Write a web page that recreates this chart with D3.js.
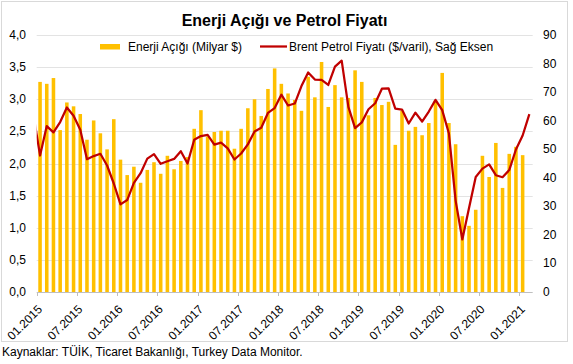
<!DOCTYPE html>
<html>
<head>
<meta charset="utf-8">
<script src="https://cdn.jsdelivr.net/npm/d3@7"></script>
<style>
  body { margin: 0; background: #fff; }
  svg { display: block; font-family: "Liberation Sans", Arial, sans-serif; }
</style>
</head>
<body>
<div id="container"></div>
<script>
// months 01.2015 .. 02.2021
const months = d3.range(74).map(i => {
    const y = 2015 + Math.floor(i / 12), m = (i % 12) + 1;
    return (m < 10 ? "0" + m : "" + m) + "." + y;
});
// energy deficit, billion $ (no value yet for 02.2021)
const energy = [
    3.27, 3.24, 3.33, 2.52, 2.95, 2.89, 2.77, 2.37, 2.67, 2.47, 2.22, 2.69,
    2.06, 1.82, 1.95, 1.70, 1.90, 2.02, 1.84, 2.12, 1.91, 2.04, 2.10, 2.54,
    2.83, 2.42, 2.49, 2.51, 2.51, 2.23, 2.54, 2.86, 3.00, 2.74, 3.16, 3.48,
    3.24, 3.09, 2.99, 2.82, 3.35, 3.03, 3.58, 2.88, 3.22, 3.03, 3.02, 3.45,
    3.27, 2.75, 3.02, 2.91, 2.96, 2.29, 2.82, 2.51, 2.57, 2.44, 2.63, 2.98,
    3.41, 2.63, 2.30, 1.18, 1.03, 1.28, 2.12, 1.79, 2.32, 1.62, 2.15, 2.26,
    2.13
];
// brent $/barrel, 12.2014 value runs off the left edge
const brentPrev = 62.3;
const brent = [
    47.8, 58.1, 55.9, 59.5, 64.6, 61.7, 56.8, 46.5, 47.6, 48.4, 44.3, 38.0,
    30.7, 32.2, 38.2, 41.6, 46.7, 48.3, 44.9, 45.8, 46.6, 49.3, 45.0, 53.3,
    54.6, 55.0, 51.6, 52.3, 50.3, 46.4, 48.5, 51.7, 56.2, 57.5, 62.7, 64.4,
    69.1, 65.3, 66.0, 72.1, 76.9, 74.4, 74.3, 72.5, 78.9, 81.0, 64.8, 57.4,
    59.4, 64.0, 66.1, 71.2, 71.3, 64.2, 63.9, 59.0, 62.8, 59.7, 63.2, 67.3,
    63.7, 55.5, 32.0, 18.4, 29.4, 40.3, 43.2, 44.7, 40.9, 40.2, 42.7, 49.9,
    54.8, 62.3
];
const leftTicks = [0, 0.5, 1, 1.5, 2, 2.5, 3, 3.5, 4];
const rightTicks = [0, 10, 20, 30, 40, 50, 60, 70, 80, 90];
const labelMonths = months.filter((d, i) => i % 6 === 0);

const W = 573, H = 364;
const plot = { left: 36.7, right: 532.7, top: 35, bottom: 292 };

const svg = d3.select("#container").append("svg")
    .attr("width", W)
    .attr("height", H);

svg.append("rect")
    .attr("x", 1.5).attr("y", 1.5)
    .attr("width", 566).attr("height", 340)
    .attr("fill", "#fff")
    .attr("stroke", "#D9D9D9");

const x = d3.scaleBand()
    .domain(months)
    .range([plot.left, plot.right])
    .paddingInner(0.47)
    .paddingOuter(0.235);
const yL = d3.scaleLinear().domain([0, 4]).range([plot.bottom, plot.top]);
const yR = d3.scaleLinear().domain([0, 90]).range([plot.bottom, plot.top]);
const cx = d => x(d) + x.bandwidth() / 2;

// gridlines
svg.append("g").selectAll("line")
    .data(leftTicks.slice(1))
    .enter().append("line")
    .attr("x1", plot.left).attr("x2", plot.right)
    .attr("y1", d => Math.round(yL(d)) + 0.5)
    .attr("y2", d => Math.round(yL(d)) + 0.5)
    .attr("stroke", "#E3E3E3");

// bars
svg.append("g").selectAll("rect")
    .data(energy)
    .enter().append("rect")
    .attr("x", (d, i) => x(months[i]))
    .attr("width", x.bandwidth())
    .attr("y", d => yL(d))
    .attr("height", d => plot.bottom - yL(d))
    .attr("fill", "#FFC000");

// x axis line + ticks
svg.append("line")
    .attr("x1", plot.left).attr("x2", plot.right)
    .attr("y1", plot.bottom + 0.5).attr("y2", plot.bottom + 0.5)
    .attr("stroke", "#BFBFBF");
svg.append("g").selectAll("line")
    .data(labelMonths)
    .enter().append("line")
    .attr("x1", d => Math.round(x(d) - x.step() * 0.235) + 0.5)
    .attr("x2", d => Math.round(x(d) - x.step() * 0.235) + 0.5)
    .attr("y1", plot.bottom).attr("y2", plot.bottom + 4)
    .attr("stroke", "#BFBFBF");

// brent line, clipped to plot area
svg.append("clipPath").attr("id", "clip")
    .append("rect")
    .attr("x", plot.left).attr("y", 0)
    .attr("width", plot.right - plot.left).attr("height", H);
const linePts = [[cx(months[0]) - x.step(), brentPrev]]
    .concat(brent.map((d, i) => [cx(months[i]), d]));
svg.append("path")
    .datum(linePts)
    .attr("clip-path", "url(#clip)")
    .attr("fill", "none")
    .attr("stroke", "#C00000")
    .attr("stroke-width", 2.25)
    .attr("stroke-linejoin", "round")
    .attr("d", d3.line().x(d => d[0]).y(d => yR(d[1])));

// y axis labels
const fmt = d3.format(".1f");
svg.append("g").selectAll("text")
    .data(leftTicks)
    .enter().append("text")
    .attr("x", 26)
    .attr("y", d => yL(d) + 4)
    .attr("text-anchor", "end")
    .attr("font-size", 12)
    .attr("fill", "#000")
    .text(d => fmt(d).replace(".", ","));
svg.append("g").selectAll("text")
    .data(rightTicks)
    .enter().append("text")
    .attr("x", 543)
    .attr("y", d => yR(d) + 4)
    .attr("font-size", 12)
    .attr("fill", "#000")
    .text(d => d);

// x labels
svg.append("g").selectAll("text")
    .data(labelMonths)
    .enter().append("text")
    .attr("transform", d => `translate(${cx(d) + 3},${plot.bottom + 18}) rotate(-45)`)
    .attr("text-anchor", "end")
    .attr("font-size", 12)
    .attr("fill", "#000")
    .text(d => d);

// title
svg.append("text")
    .attr("x", 284.5).attr("y", 26)
    .attr("text-anchor", "middle")
    .attr("font-size", 16)
    .attr("font-weight", "bold")
    .text("Enerji Açığı ve Petrol Fiyatı");

// legend
svg.append("rect")
    .attr("x", 100).attr("y", 44)
    .attr("width", 20).attr("height", 5.5)
    .attr("fill", "#FFC000");
svg.append("text")
    .attr("x", 128).attr("y", 51)
    .attr("font-size", 12)
    .text("Enerji Açığı (Milyar $)");
svg.append("line")
    .attr("x1", 260).attr("x2", 287)
    .attr("y1", 46.5).attr("y2", 46.5)
    .attr("stroke", "#C00000")
    .attr("stroke-width", 2.25);
svg.append("text")
    .attr("x", 289).attr("y", 51)
    .attr("font-size", 12)
    .text("Brent Petrol Fiyatı ($/varil), Sağ Eksen");

// source
svg.append("text")
    .attr("x", 2).attr("y", 356)
    .attr("font-size", 12)
    .text("Kaynaklar: TÜİK, Ticaret Bakanlığı, Turkey Data Monitor.");
</script>
</body>
</html>
